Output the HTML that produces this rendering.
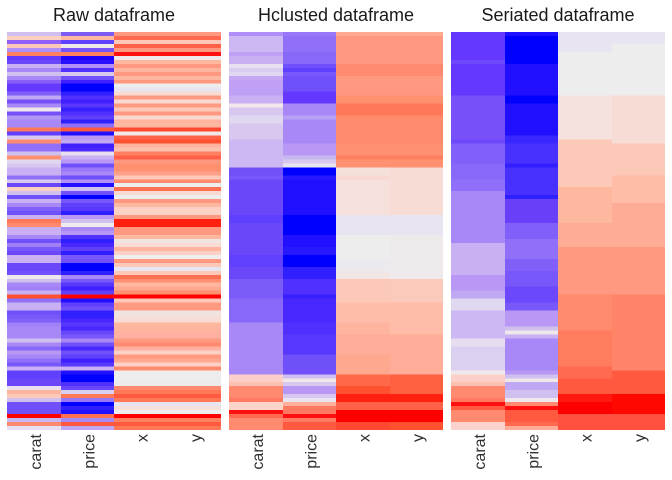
<!DOCTYPE html>
<html>
<head>
<meta charset="utf-8">
<style>
html,body{margin:0;padding:0;background:#fff;}
#wrap{position:relative;width:672px;height:480px;overflow:hidden;background:#fff;}
.c{position:absolute;top:32px;height:398px;width:53.5px;}
svg{position:absolute;left:0;top:0;}
</style>
</head>
<body>
<div id="wrap">
<!-- Panel 1: Raw -->
<div class="c" style="left:7px;background:linear-gradient(#D0C0F0 0 1%,#FCD0C0 0 2%,#9060F8 0 3%,#FDC8B8 0 4%,#B090F8 0 5%,#FF8060 0 6%,#6438FE 0 7%,#6A48FA 0 8%,#C8B0F2 0 9%,#A888F6 0 10%,#D0C0F0 0 11%,#A888F6 0 12%,#8860F8 0 13%,#6438FE 0 15%,#8060F8 0 16%,#C0A8F4 0 17%,#7850FA 0 18%,#A888F6 0 19%,#EEE8EC 0 20%,#7850FA 0 21%,#B098F4 0 22%,#A888F6 0 24%,#FF7858 0 25%,#6040FF 0 26%,#D8C8F0 0 27%,#FF8A70 0 28%,#9070F8 0 30%,#D0C0F0 0 31%,#FF9070 0 32%,#E0D8F0 0 33%,#D8C8F0 0 34%,#C8B0F2 0 36%,#9070F8 0 37%,#D8C8F0 0 38%,#6A48FA 0 39%,#FCD0C0 0 40%,#D0C0F0 0 41%,#7050FA 0 42%,#C8B0F2 0 43%,#A888F6 0 44%,#8060F8 0 45%,#7050FA 0 46%,#C8B0F2 0 47%,#FF7858 0 48%,#FF8A70 0 49%,#C8B0F2 0 51%,#A888F6 0 52%,#7050FA 0 53%,#A080F6 0 54%,#7858FA 0 55%,#6A48FA 0 56%,#C8B0F2 0 58%,#6A48FA 0 60%,#7050FA 0 61%,#EEE8EC 0 62%,#D0C0F0 0 63%,#A888F6 0 64%,#A080F6 0 65%,#C8B0F2 0 66%,#FF5030 0 67%,#9070F8 0 68%,#C8B0F2 0 70%,#7050FA 0 71%,#7858FA 0 72%,#8060F8 0 73%,#A080F6 0 74%,#A888F6 0 77%,#D0C0F0 0 78%,#A888F6 0 79%,#8868F8 0 80%,#B898F4 0 81%,#A888F6 0 82%,#9070F8 0 83%,#7858FA 0 84%,#C8B0F2 0 85%,#6040FF 0 87%,#6A48FA 0 89%,#E8E0F0 0 90%,#FFB4A0 0 91%,#FCC8B8 0 92%,#D0C0F0 0 93%,#7050FA 0 96%,#FF0000 0 97%,#C8B8F2 0 98%,#FF8A70 0 99%,#E8E0F0 0 100%);"></div>
<div class="c" style="left:60.5px;background:linear-gradient(#7B5CF5 0 1%,#FFB8A0 0 2%,#6040FF 0 3%,#F0E8E8 0 4%,#7850FA 0 5%,#FF8060 0 6%,#2000FF 0 7%,#2810FF 0 8%,#B090F8 0 9%,#5030FF 0 10%,#D8C8F0 0 11%,#7050FA 0 12%,#4020FF 0 13%,#0000FF 0 15%,#3020FF 0 16%,#5030FF 0 17%,#4020FF 0 18%,#5838FC 0 19%,#3820FF 0 20%,#5030FF 0 21%,#6040FC 0 22%,#3020FF 0 23%,#9070F8 0 24%,#FF5A40 0 25%,#2010FF 0 26%,#B898F4 0 27%,#C0A8F4 0 28%,#4020FF 0 29%,#4828FF 0 30%,#E8E0F0 0 31%,#C8B0F2 0 32%,#B898F4 0 33%,#7050FA 0 34%,#9878F8 0 35%,#A888F6 0 36%,#7050FA 0 37%,#B090F8 0 38%,#2010FF 0 39%,#D0C0F0 0 40%,#7050FA 0 41%,#0000FF 0 42%,#7858FA 0 43%,#6040FC 0 44%,#5838FC 0 45%,#3020FF 0 46%,#B898F4 0 47%,#D0C0F0 0 48%,#EEEAEE 0 49%,#A888F6 0 50%,#B898F4 0 51%,#5030FF 0 52%,#3020FF 0 53%,#4828FF 0 54%,#6040FC 0 55%,#3020FF 0 56%,#7858FA 0 57%,#7050FA 0 58%,#0000FF 0 60%,#3020FF 0 61%,#A888F6 0 62%,#7858FA 0 63%,#5838FC 0 64%,#4020FF 0 65%,#6040FC 0 66%,#FF0000 0 67%,#2010FF 0 68%,#6040FC 0 69%,#7050FA 0 70%,#3020FF 0 72%,#4828FF 0 73%,#5838FC 0 74%,#4828FF 0 75%,#6848FA 0 76%,#7858FA 0 77%,#A888F6 0 78%,#7050FA 0 79%,#4828FF 0 80%,#7050FA 0 81%,#6040FC 0 82%,#4020FF 0 83%,#5838FC 0 84%,#C8B0F2 0 85%,#2010FF 0 86%,#0000FF 0 88%,#5030FF 0 89%,#6A48FA 0 90%,#D8D0F0 0 91%,#FF7858 0 92%,#9878F8 0 93%,#0000FF 0 94%,#3020FF 0 95%,#2010FF 0 96%,#FF7050 0 97%,#A888F6 0 98%,#FF5A40 0 99%,#C0A8F4 0 100%);"></div>
<div class="c" style="left:114px;width:107px;background:linear-gradient(#FF9A80 0 1%,#FF6A50 0 2%,#FFC8B8 0 3%,#FF6048 0 4%,#FF9880 0 5%,#FF1010 0 6%,#F0E8E8 0 7%,#FFB8A0 0 8%,#FF9880 0 9%,#FFB4A0 0 10%,#FF9880 0 11%,#FFB8A0 0 12%,#FF9880 0 13%,#EDEDED 0 14%,#E8E4F0 0 15%,#F8DCD4 0 16%,#FF9880 0 17%,#F8D8D0 0 18%,#FF9A80 0 19%,#FCC8B8 0 20%,#FF9880 0 21%,#F8D8D0 0 22%,#FFB4A0 0 23%,#FFB8A0 0 24%,#FF4830 0 25%,#F0E8E8 0 26%,#FF6048 0 27%,#FF5030 0 28%,#FFB4A0 0 29%,#FFC0B0 0 30%,#FF8060 0 31%,#FF6048 0 32%,#FF9880 0 33%,#FF9070 0 35%,#FFA088 0 36%,#FCC8B8 0 37%,#FF8A70 0 38%,#EDEDED 0 39%,#FF7050 0 40%,#F8D8D0 0 41%,#EDEDED 0 42%,#FF9880 0 43%,#FFB8A0 0 44%,#FCD0C4 0 46%,#FF9A80 0 47%,#FF2010 0 49%,#FF9A80 0 50%,#FF9880 0 51%,#FFB8A0 0 52%,#F0E4E0 0 53%,#F8DCD4 0 54%,#FFB4A0 0 55%,#FCD0C4 0 56%,#EEEEEE 0 57%,#FF9A80 0 58%,#FCC8B8 0 59%,#E8E4F0 0 60%,#FCC8B8 0 61%,#FF7050 0 62%,#FF9070 0 63%,#FFB8A0 0 64%,#FFA890 0 65%,#FF9070 0 66%,#FF0000 0 67%,#FFC8B8 0 68%,#FF9A80 0 70%,#F0E4E0 0 71%,#F5E0DC 0 72%,#F8DCD4 0 73%,#FFB8A0 0 74%,#FFB4A0 0 75%,#FFB0A0 0 77%,#FF9A80 0 78%,#FF8A70 0 79%,#FFB0A0 0 80%,#FCD0C4 0 81%,#FF9A80 0 82%,#FFA890 0 83%,#FCD0C4 0 84%,#FF8A70 0 85%,#EDEDED 0 88%,#EEEAEC 0 89%,#FF8A70 0 90%,#FF7858 0 91%,#FF5A40 0 92%,#FF7858 0 93%,#E8E4F0 0 94%,#F5E0DC 0 95%,#EDEDED 0 96%,#FF0000 0 97%,#FF8060 0 98%,#FF5A40 0 99%,#FF7858 0 100%);"></div>

<!-- Panel 2: Hclust -->
<div class="c" style="left:229px;background:linear-gradient(#B090F8 0 1%,#CCB8F2 0 5%,#C0A0F4 0 6%,#C8B0F2 0 8%,#E8E0F0 0 9%,#D8CCF0 0 10%,#E0D8F0 0 11%,#C4A8F4 0 12%,#C0A0F5 0 16%,#C8B0F2 0 18%,#F2E8EC 0 19%,#D8C8F0 0 21%,#E0D8F0 0 23%,#D8C8F0 0 27%,#CCB8F2 0 34%,#7050F8 0 36%,#7858FA 0 37%,#6A48FA 0 46%,#6040FF 0 48%,#6A48FA 0 56%,#6040FC 0 59%,#6A48FA 0 62%,#7C5CF8 0 67%,#8868F8 0 73%,#A888F6 0 86%,#FCD0C8 0 88%,#FCC0B0 0 89%,#FF8A70 0 92%,#FF7A60 0 93%,#FCD4C8 0 95%,#FF1010 0 96%,#FF6A50 0 97%,#FF8A70 0 100%);"></div>
<div class="c" style="left:282.5px;background:linear-gradient(#9878F8 0 1%,#9070F8 0 5%,#8868F8 0 8%,#7050FA 0 9%,#6040FF 0 10%,#7858FA 0 11%,#7050FA 0 15%,#6438FE 0 18%,#A888F6 0 21%,#B8A0F4 0 22%,#A888F6 0 28%,#B898F4 0 31%,#C8B8F0 0 32%,#D8C8F0 0 33%,#E8E4F0 0 34%,#0000FF 0 36%,#2818FF 0 37%,#2010FF 0 46%,#0000FF 0 51%,#2010FF 0 54%,#2818FF 0 56%,#0000FF 0 59%,#3020FF 0 62%,#5030FF 0 66%,#3820FF 0 67%,#4828FF 0 73%,#5030FF 0 76%,#5838FC 0 81%,#7050F8 0 86%,#D0C0F0 0 87%,#F0E8E8 0 88%,#D8C8F0 0 89%,#B898F4 0 91%,#D8C8F0 0 92%,#E8E4F0 0 93%,#FFB09A 0 94%,#FF7A60 0 96%,#FF1010 0 97%,#FF7A60 0 98%,#FF5A40 0 100%);"></div>
<div class="c" style="left:336px;background:linear-gradient(#FFA890 0 1%,#FF9880 0 8%,#FF8A70 0 11%,#FF9880 0 16%,#FF9070 0 18%,#FF7858 0 21%,#FF8A6C 0 28%,#FF9070 0 31%,#FF8060 0 32%,#FF9070 0 34%,#F6E0DC 0 36%,#F8D8D0 0 37%,#F5E0DC 0 46%,#E8E4F0 0 51%,#EDEDED 0 57%,#ECEAEE 0 60%,#F2E6E4 0 62%,#FCC8B8 0 68%,#FFBCA8 0 73%,#FFB4A0 0 76%,#FFAC98 0 81%,#FFA890 0 86%,#FF6848 0 89%,#FF5030 0 91%,#FF2010 0 93%,#FF6048 0 95%,#FF0000 0 98%,#FF4830 0 100%);"></div>
<div class="c" style="left:389.5px;background:linear-gradient(#FFA890 0 1%,#FF9880 0 8%,#FF8A70 0 11%,#FF9880 0 16%,#FF9070 0 18%,#FF7858 0 21%,#FF8A6C 0 28%,#FF9070 0 31%,#FF8060 0 32%,#FF9070 0 34%,#F6DCD4 0 46%,#E8E4F0 0 51%,#EEEAEC 0 62%,#FCCABA 0 68%,#FFBCA8 0 76%,#FFAC98 0 86%,#FF6040 0 91%,#FF2010 0 93%,#FF6048 0 95%,#FF0000 0 98%,#FF5030 0 100%);"></div>

<!-- Panel 3: Seriated -->
<div class="c" style="left:451px;background:linear-gradient(#6438FE 0 7%,#6C48FA 0 8%,#6438FE 0 16%,#7850FA 0 27%,#6C48FA 0 28%,#8060F8 0 33%,#8868F8 0 37%,#9070F8 0 40%,#A888F6 0 53%,#C8B0F2 0 61%,#B898F4 0 65%,#C0A8F4 0 67%,#E0D8F0 0 70%,#CCB8F2 0 77%,#E6DEF0 0 79%,#DCD0F0 0 85%,#EEEAEE 0 86%,#FCD0C8 0 88%,#FCC0B0 0 89%,#FF8A70 0 92%,#FF7A60 0 93%,#FF1010 0 94%,#FF5A40 0 95%,#FF8A70 0 98%,#FAD4CC 0 100%);"></div>
<div class="c" style="left:504.5px;background:linear-gradient(#2010FF 0 1%,#0000FF 0 8%,#2010FF 0 16%,#0000FF 0 18%,#2010FF 0 26%,#3828FF 0 28%,#4830FF 0 33%,#3020FF 0 34%,#4830FF 0 41%,#3020FF 0 42%,#6840FA 0 48%,#8060F8 0 52%,#9070F8 0 57%,#8060F8 0 60%,#7858FA 0 64%,#6C48FC 0 68%,#7858FA 0 70%,#B898F4 0 74%,#D0C0F0 0 75%,#EEE8EC 0 76%,#C8B0F2 0 77%,#A888F6 0 85%,#B898F4 0 86%,#D0C0F0 0 87%,#F0E8E8 0 88%,#C0A8F4 0 90%,#D0C0F0 0 92%,#EEE8EC 0 93%,#FF8A70 0 94%,#FF1010 0 95%,#FF5A40 0 98%,#FF6A50 0 99%,#FFAC96 0 100%);"></div>
<div class="c" style="left:558px;background:linear-gradient(#E8E4F0 0 5%,#EDEDED 0 16%,#F5E2DE 0 27%,#FCC8B8 0 39%,#FFB8A0 0 48%,#FFAC96 0 54%,#FF9A80 0 66%,#FF8A6C 0 75%,#FF7C5E 0 84%,#FF6A50 0 87%,#FF5A40 0 91%,#FF1810 0 93%,#FF0000 0 96%,#FF5040 0 100%);"></div>
<div class="c" style="left:611.5px;background:linear-gradient(#E8E4F0 0 3%,#EDEDED 0 16%,#F6DCD4 0 28%,#FCC8B8 0 36%,#FFBCA6 0 43%,#FFAC96 0 54%,#FF9A80 0 66%,#FF8468 0 85%,#FF5A40 0 91%,#FF0800 0 96%,#FF5040 0 100%);"></div>

<svg width="672" height="480" viewBox="0 0 672 480" xmlns="http://www.w3.org/2000/svg">
  <g font-family="'Liberation Sans', Arial, sans-serif" font-size="18" fill="#1a1a1a" text-anchor="middle">
    <text x="114" y="21">Raw dataframe</text>
    <text x="336" y="21">Hclusted dataframe</text>
    <text x="558" y="21">Seriated dataframe</text>
  </g>
  <g font-family="'Liberation Sans', Arial, sans-serif" font-size="16" fill="#303030" text-anchor="end">
    <text transform="translate(41,434) rotate(-90)">carat</text>
    <text transform="translate(94.5,434) rotate(-90)">price</text>
    <text transform="translate(147.5,434) rotate(-90)">x</text>
    <text transform="translate(201,434) rotate(-90)">y</text>

    <text transform="translate(263,434) rotate(-90)">carat</text>
    <text transform="translate(316.5,434) rotate(-90)">price</text>
    <text transform="translate(369.5,434) rotate(-90)">x</text>
    <text transform="translate(423,434) rotate(-90)">y</text>

    <text transform="translate(485,434) rotate(-90)">carat</text>
    <text transform="translate(538.5,434) rotate(-90)">price</text>
    <text transform="translate(591.5,434) rotate(-90)">x</text>
    <text transform="translate(645,434) rotate(-90)">y</text>
  </g>
</svg>
</div>
</body>
</html>
